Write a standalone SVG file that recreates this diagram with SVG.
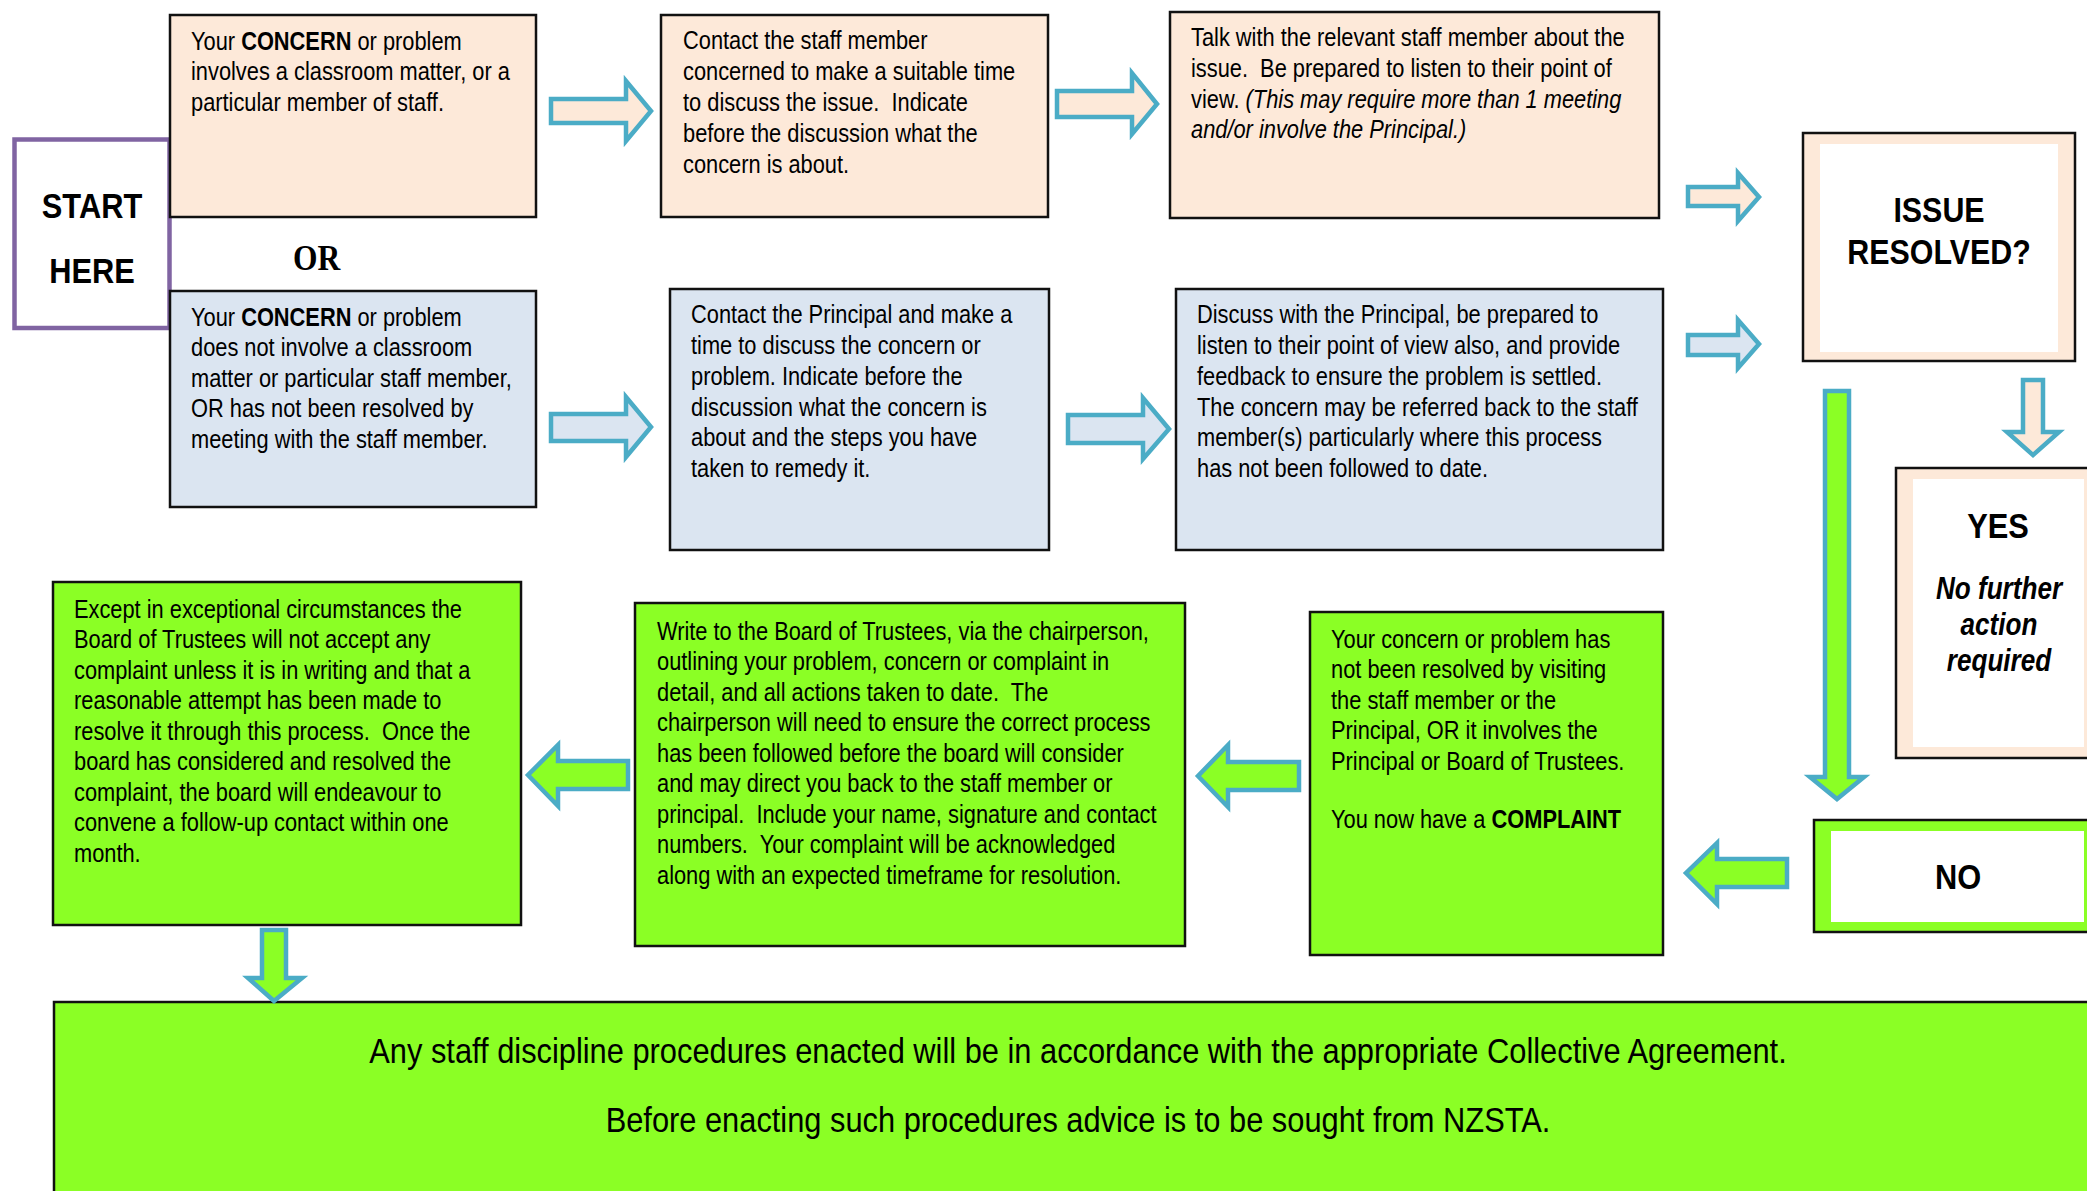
<svg xmlns="http://www.w3.org/2000/svg" width="2087" height="1191" viewBox="0 0 2087 1191">
<style>
.t{font-family:"Liberation Sans",Arial,sans-serif;font-size:25.5px;fill:#000}
.big{font-size:36px}
.h{font-family:"Liberation Sans",Arial,sans-serif;font-weight:bold;fill:#000}
.b{font-weight:bold}
.i{font-style:italic}
.box{stroke:#111;stroke-width:2.5}
.peach{fill:#fde9d9}
.blue{fill:#dbe5f1}
.green{fill:#8bff25}
.white{fill:#fff}
.arr{stroke:#4bacc6;stroke-width:4.5;stroke-linejoin:miter}
</style>
<rect width="2087" height="1191" fill="#fff"/>
<g id="start">
<rect x="14.5" y="139.5" width="155" height="188.5" fill="#fff" stroke="#8064a2" stroke-width="4.5"/>
<text class="h" font-size="36" text-anchor="middle" transform="matrix(0.856 0 0 1 92 0)"><tspan x="0" y="218">START</tspan><tspan x="0" y="283">HERE</tspan></text>
</g>
<g id="or">
<text font-family="'Liberation Serif',serif" font-weight="bold" font-size="35" transform="matrix(0.9 0 0 1 293 0)"><tspan x="0" y="270">OR</tspan></text>
</g>
<g id="box1">
<rect class="box peach" x="170" y="15" width="366" height="202"/>
<text class="t" transform="matrix(0.856 0 0 1 191 0)"><tspan x="0" y="50">Your <tspan class="b">CONCERN</tspan> or problem</tspan><tspan x="0" y="80.5">involves a classroom matter, or a</tspan><tspan x="0" y="111">particular member of staff.</tspan></text>
</g>
<g id="box2">
<rect class="box peach" x="661" y="15" width="387" height="202"/>
<text class="t" transform="matrix(0.856 0 0 1 683 0)"><tspan x="0" y="49.5">Contact the staff member</tspan><tspan x="0" y="80.3">concerned to make a suitable time</tspan><tspan x="0" y="111.1">to discuss the issue.&#160; Indicate</tspan><tspan x="0" y="141.9">before the discussion what the</tspan><tspan x="0" y="172.7">concern is about.</tspan></text>
</g>
<g id="box3">
<rect class="box peach" x="1170" y="12" width="489" height="206"/>
<text class="t" transform="matrix(0.856 0 0 1 1191 0)"><tspan x="0" y="46">Talk with the relevant staff member about the</tspan><tspan x="0" y="76.8">issue.&#160; Be prepared to listen to their point of</tspan><tspan x="0" y="107.6">view. <tspan class="i">(This may require more than 1 meeting</tspan></tspan><tspan x="0" y="138.4" class="i">and/or involve the Principal.)</tspan></text>
</g>
<g id="box4">
<rect class="box blue" x="170" y="291" width="366" height="216"/>
<text class="t" transform="matrix(0.856 0 0 1 191 0)"><tspan x="0" y="326">Your <tspan class="b">CONCERN</tspan> or problem</tspan><tspan x="0" y="356.5">does not involve a classroom</tspan><tspan x="0" y="387">matter or particular staff member,</tspan><tspan x="0" y="417.5">OR has not been resolved by</tspan><tspan x="0" y="448">meeting with the staff member.</tspan></text>
</g>
<g id="box5">
<rect class="box blue" x="670" y="289" width="379" height="261"/>
<text class="t" transform="matrix(0.856 0 0 1 691 0)"><tspan x="0" y="323.5">Contact the Principal and make a</tspan><tspan x="0" y="354.2">time to discuss the concern or</tspan><tspan x="0" y="384.9">problem. Indicate before the</tspan><tspan x="0" y="415.6">discussion what the concern is</tspan><tspan x="0" y="446.3">about and the steps you have</tspan><tspan x="0" y="477">taken to remedy it.</tspan></text>
</g>
<g id="box6">
<rect class="box blue" x="1176" y="289" width="487" height="261"/>
<text class="t" transform="matrix(0.856 0 0 1 1197 0)"><tspan x="0" y="323.5">Discuss with the Principal, be prepared to</tspan><tspan x="0" y="354.2">listen to their point of view also, and provide</tspan><tspan x="0" y="384.9">feedback to ensure the problem is settled.</tspan><tspan x="0" y="415.6">The concern may be referred back to the staff</tspan><tspan x="0" y="446.3">member(s) particularly where this process</tspan><tspan x="0" y="477">has not been followed to date.</tspan></text>
</g>
<g id="issue">
<rect class="box peach" x="1803" y="133" width="272" height="228"/>
<rect class="white" x="1820" y="144" width="238" height="208"/>
<text class="h" font-size="35.5" text-anchor="middle" transform="matrix(0.856 0 0 1 1939 0)"><tspan x="0" y="222">ISSUE</tspan><tspan x="0" y="264">RESOLVED?</tspan></text>
</g>
<g id="yes">
<rect class="box peach" x="1896" y="468" width="205" height="290"/>
<rect class="white" x="1913" y="479" width="171" height="268"/>
<text class="h" font-size="36" text-anchor="middle" transform="matrix(0.856 0 0 1 1998 0)"><tspan x="0" y="538">YES</tspan></text>
<text class="h i" font-size="30.5" text-anchor="middle" transform="matrix(0.856 0 0 1 1999 0)"><tspan x="0" y="599">No further</tspan><tspan x="0" y="635">action</tspan><tspan x="0" y="671">required</tspan></text>
</g>
<g id="no">
<rect class="box green" x="1814" y="820" width="287" height="112"/>
<rect class="white" x="1831" y="831" width="253" height="91"/>
<text class="h" font-size="36" text-anchor="middle" transform="matrix(0.856 0 0 1 1958 0)"><tspan x="0" y="889">NO</tspan></text>
</g>
<g id="box9">
<rect class="box green" x="1310" y="612" width="353" height="343"/>
<text class="t" transform="matrix(0.856 0 0 1 1331 0)"><tspan x="0" y="648">Your concern or problem has</tspan><tspan x="0" y="678.5">not been resolved by visiting</tspan><tspan x="0" y="709">the staff member or the</tspan><tspan x="0" y="739.5">Principal, OR it involves the</tspan><tspan x="0" y="770">Principal or Board of Trustees.</tspan><tspan x="0" y="828">You now have a <tspan class="b">COMPLAINT</tspan></tspan></text>
</g>
<g id="box8">
<rect class="box green" x="635" y="603" width="550" height="343"/>
<text class="t" transform="matrix(0.856 0 0 1 657 0)"><tspan x="0" y="640">Write to the Board of Trustees, via the chairperson,</tspan><tspan x="0" y="670.5">outlining your problem, concern or complaint in</tspan><tspan x="0" y="701">detail, and all actions taken to date.&#160; The</tspan><tspan x="0" y="731.5">chairperson will need to ensure the correct process</tspan><tspan x="0" y="762">has been followed before the board will consider</tspan><tspan x="0" y="792.5">and may direct you back to the staff member or</tspan><tspan x="0" y="823">principal.&#160; Include your name, signature and contact</tspan><tspan x="0" y="853.5">numbers.&#160; Your complaint will be acknowledged</tspan><tspan x="0" y="884">along with an expected timeframe for resolution.</tspan></text>
</g>
<g id="box7">
<rect class="box green" x="53" y="582" width="468" height="343"/>
<text class="t" transform="matrix(0.856 0 0 1 74 0)"><tspan x="0" y="618">Except in exceptional circumstances the</tspan><tspan x="0" y="648.5">Board of Trustees will not accept any</tspan><tspan x="0" y="679">complaint unless it is in writing and that a</tspan><tspan x="0" y="709.5">reasonable attempt has been made to</tspan><tspan x="0" y="740">resolve it through this process.&#160; Once the</tspan><tspan x="0" y="770.5">board has considered and resolved the</tspan><tspan x="0" y="801">complaint, the board will endeavour to</tspan><tspan x="0" y="831.5">convene a follow-up contact within one</tspan><tspan x="0" y="862">month.</tspan></text>
</g>
<g id="bottom">
<rect class="box green" x="54" y="1002" width="2050" height="200"/>
<text class="t big" text-anchor="middle" transform="matrix(0.856 0 0 1 1078 0)"><tspan x="0" y="1063">Any staff discipline procedures enacted will be in accordance with the appropriate Collective Agreement.</tspan><tspan x="0" y="1132">Before enacting such procedures advice is to be sought from NZSTA.</tspan></text>
</g>
<g id="connectors">
<polygon class="arr peach" points="551,99 626,99 626,81 651,111 626,141 626,123 551,123"/>
<polygon class="arr peach" points="1057,91 1132,91 1132,73 1157,104 1132,134 1132,117 1057,117"/>
<polygon class="arr blue" points="551,414 626,414 626,397 651,427 626,457 626,441 551,441"/>
<polygon class="arr blue" points="1068,415 1143,415 1143,398 1169,429 1143,459 1143,443 1068,443"/>
<polygon class="arr peach" points="1688,187 1738,187 1738,173 1759,197 1738,221 1738,206 1688,206"/>
<polygon class="arr blue" points="1688,335 1738,335 1738,320 1759,344 1738,368 1738,355 1688,355"/>
<polygon class="arr peach" points="2023,380 2043,380 2043,432 2059,432 2033,455 2007,432 2023,432"/>
<polygon class="arr green" points="1825,391 1849,391 1849,777 1864,777 1837,799 1810,777 1825,777"/>
<polygon class="arr green" points="1787,859 1717,859 1717,843 1686,873 1717,904 1717,887 1787,887"/>
<polygon class="arr green" points="1299,762 1228,762 1228,745 1198,776 1228,807 1228,790 1299,790"/>
<polygon class="arr green" points="628,761 558,761 558,745 528,775 558,806 558,789 628,789"/>
<polygon class="arr green" points="262,930 286,930 286,978 302,978 274,1001 248,978 262,978"/>
</g>
</svg>
